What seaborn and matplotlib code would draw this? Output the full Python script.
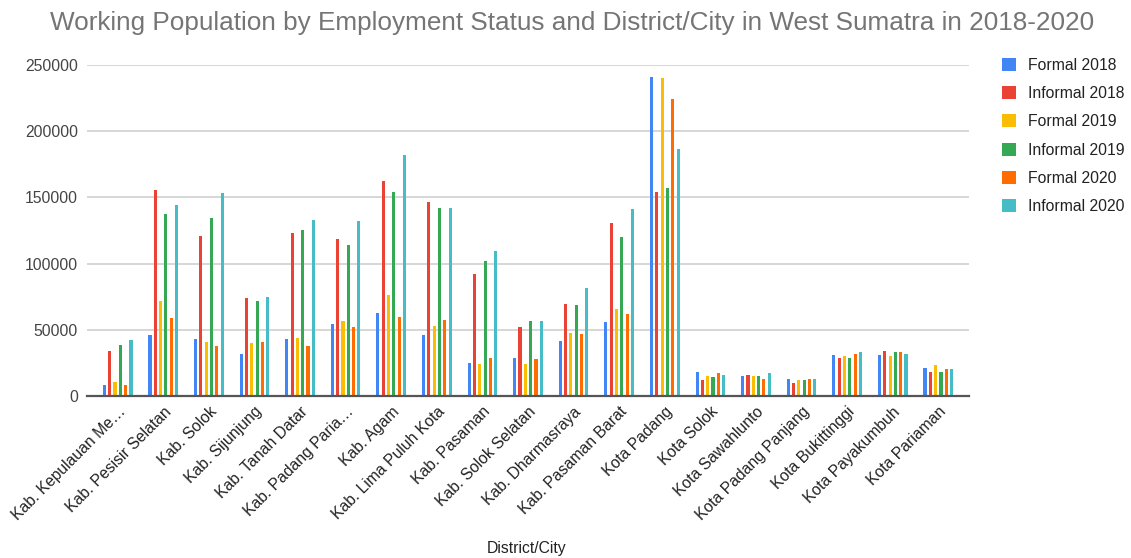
import matplotlib
matplotlib.use("Agg")
import matplotlib.pyplot as plt
import seaborn as sns
import pandas as pd

districts = [
    "Kab. Kepulauan Me…", "Kab. Pesisir Selatan", "Kab. Solok", "Kab. Sijunjung",
    "Kab. Tanah Datar", "Kab. Padang Paria…", "Kab. Agam", "Kab. Lima Puluh Kota",
    "Kab. Pasaman", "Kab. Solok Selatan", "Kab. Dharmasraya", "Kab. Pasaman Barat",
    "Kota Padang", "Kota Solok", "Kota Sawahlunto", "Kota Padang Panjang",
    "Kota Bukittinggi", "Kota Payakumbuh", "Kota Pariaman",
]
series_names = ["Formal 2018", "Informal 2018", "Formal 2019",
                "Informal 2019", "Formal 2020", "Informal 2020"]

formal_2018 = [8100, 45700, 42700, 31800, 42700, 54600, 62700, 45700, 24800, 28800,
               41700, 55600, 241400, 17700, 14900, 12900, 30800, 30800, 21000]
informal_2018 = [33900, 156000, 121200, 73800, 123300, 118500, 162100, 146200, 92400, 51800,
                 69500, 130300, 154100, 11900, 15900, 9900, 28800, 33900, 18000]
formal_2019 = [10100, 71700, 40700, 39900, 43700, 56600, 76500, 52800, 23800, 23800,
               47700, 65700, 240400, 14900, 14900, 11900, 29800, 29800, 23000]
informal_2019 = [38200, 137400, 134100, 71700, 125300, 114400, 154100, 142200, 102300, 56600,
                 68500, 120200, 157100, 13900, 14900, 11900, 28800, 32800, 18000]
formal_2020 = [8100, 58900, 37900, 40700, 37900, 51800, 59600, 57600, 28800, 27800,
               46700, 61600, 224500, 16900, 12900, 12900, 31800, 32800, 20000]
informal_2020 = [42000, 144200, 153000, 74500, 133100, 132100, 181800, 142200, 109400, 56600,
                 81400, 141200, 186900, 15900, 16900, 12900, 32800, 31800, 20000]

colors = ["#4285F4", "#EA4335", "#FBBC04", "#34A853", "#FF6D01", "#46BDC6"]

all_series = [formal_2018, informal_2018, formal_2019, informal_2019, formal_2020, informal_2020]
rows = []
for name, vals in zip(series_names, all_series):
    for d, v in zip(districts, vals):
        rows.append({"District/City": d, "Series": name, "Value": v})
df = pd.DataFrame(rows)

sns.set_theme(style="white")
plt.rcParams["font.family"] = ["Liberation Sans", "DejaVu Sans"]

FS = 11.3
W, H = 1131, 558
fig = plt.figure(figsize=(W / 100, H / 100), dpi=100)
L, R, B, T = 87, 969, 395.7, 65.3
ax = fig.add_axes([L / W, 1 - B / H, (R - L) / W, (B - T) / H])

sns.barplot(data=df, x="District/City", y="Value", hue="Series",
            order=districts, hue_order=series_names, palette=colors,
            width=0.70, gap=0.42, saturation=1, linewidth=0,
            ax=ax, legend=True)

ax.set_ylim(0, 250000)
ax.set_xlim(-0.673, len(districts) - 1 + 0.673)
ax.set_yticks([0, 50000, 100000, 150000, 200000, 250000])
ax.set_yticklabels(["0", "50000", "100000", "150000", "200000", "250000"])
ax.yaxis.grid(True, color="#d0d0d0", linewidth=1.2)
ax.set_axisbelow(True)
for s in ["top", "right", "left"]:
    ax.spines[s].set_visible(False)
ax.spines["bottom"].set_color("#555555")
ax.spines["bottom"].set_linewidth(1.6)
ax.tick_params(axis="y", length=0, pad=6.5, labelsize=FS, labelcolor="#444444")
ax.tick_params(axis="x", length=0, pad=6, labelsize=FS, labelcolor="#222222")
plt.setp(ax.get_xticklabels(), rotation=45, ha="right", rotation_mode="anchor")

ax.set_ylabel("")
ax.set_xlabel("District/City", fontsize=FS, color="#222222")
ax.xaxis.set_label_coords((527 - L) / (R - L), (B - 541) / (B - T))

handles, labels = ax.get_legend_handles_labels()
ax.legend(handles, labels, loc="upper left",
          bbox_to_anchor=(1002 / W, 1 - 58 / H), bbox_transform=fig.transFigure,
          frameon=False, fontsize=FS, handlelength=0.9, handleheight=0.9,
          handletextpad=0.76, labelspacing=0.84, borderpad=0, borderaxespad=0,
          labelcolor="#222222")

fig.text(572 / W, 1 - 23 / H,
         "Working Population by Employment Status and District/City in West Sumatra in 2018-2020",
         ha="center", va="center", fontsize=18.8, color="#757575")

fig.savefig("out.png", dpi=100)
